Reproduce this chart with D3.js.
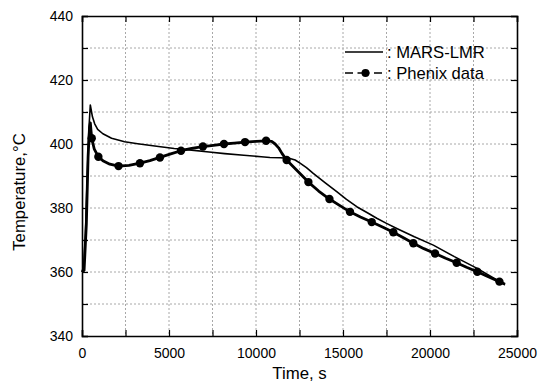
<!DOCTYPE html>
<html>
<head>
<meta charset="utf-8">
<script src="https://cdn.jsdelivr.net/npm/d3@7"></script>
<style>
  body { margin: 0; background: #fff; }
  text { font-family: "Liberation Sans", Arial, sans-serif; fill: #000; }
</style>
</head>
<body>
<div id="chart"></div>
<script>
// MARS-LMR calculation (time s, temperature °C)
const marsTime = [0, 100, 200, 300, 400, 477, 600, 730, 900, 1200, 1700, 2450, 3200, 4400, 5300, 6300, 7300, 8200, 9300, 10300, 10800, 11400, 11950, 12250, 12530, 12900, 13290, 14000, 14640, 15200, 15790, 16400, 16940, 17500, 18090, 19100, 20190, 21400, 22680, 23500, 24310];
const marsTemp = [360, 362, 372, 390, 405, 412.2, 408.5, 406.3, 404.6, 403.2, 401.8, 400.7, 400.1, 399.2, 398.6, 398.1, 397.5, 397, 396.5, 396, 395.8, 395.7, 395.5, 395, 394, 392.6, 390.8, 387.8, 385.1, 382.7, 380.4, 378.5, 376.8, 375.2, 373.6, 371, 368.4, 364.8, 361.2, 358.6, 356];

// Phenix plant data (line)
const phxTime = [0, 120, 250, 350, 430, 480, 520, 560, 700, 940, 1200, 1600, 2100, 2700, 3330, 3900, 4480, 5100, 5690, 6300, 6950, 7550, 8160, 8750, 9370, 10000, 10580, 10900, 11100, 11300, 11500, 11760, 12400, 13010, 13600, 14220, 14800, 15400, 16000, 16650, 17300, 17890, 18500, 19040, 19650, 20290, 20900, 21530, 22100, 22720, 23350, 23990, 24310];
const phxTemp = [360, 360.5, 375, 396, 405, 406.6, 404, 401.8, 398.5, 396, 394.8, 393.7, 393.1, 393.3, 394, 394.8, 395.8, 396.9, 397.9, 398.6, 399.2, 399.6, 400, 400.3, 400.6, 400.8, 401, 400.8, 400, 398.8, 397, 395, 391.5, 388.1, 385.3, 382.8, 380.8, 378.8, 377.2, 375.6, 374, 372.4, 370.6, 369, 367.3, 365.8, 364.3, 362.9, 361.5, 360.1, 358.5, 357, 356.2];
// Phenix marker positions
const markTime = [560, 940, 2100, 3330, 4480, 5690, 6950, 8160, 9370, 10580, 11760, 13010, 14220, 15400, 16650, 17890, 19040, 20290, 21530, 22720, 23990];

const xTicks = [0, 5000, 10000, 15000, 20000, 25000];
const yTicks = [340, 360, 380, 400, 420, 440];
const legendLabels = [": MARS-LMR", ": Phenix data"];

const W = 538, H = 383;
const mL = 82, mR = 517, mT = 16, mB = 336;

const svg = d3.select("#chart").append("svg")
    .attr("width", W).attr("height", H);

const x = d3.scaleLinear().domain([0, 25000]).range([mL, mR]);
const y = d3.scaleLinear().domain([340, 440]).range([mB, mT]);

// grid (every minor tick)
const gridX = d3.range(2500, 25000, 2500);
const gridY = d3.range(350, 440, 10);
svg.append("g").selectAll("line").data(gridX).join("line")
    .attr("x1", d => x(d)).attr("x2", d => x(d))
    .attr("y1", mT).attr("y2", mB)
    .attr("stroke", "#a8a8a8").attr("stroke-width", 1).attr("stroke-dasharray", "2,2");
svg.append("g").selectAll("line").data(gridY).join("line")
    .attr("y1", d => y(d)).attr("y2", d => y(d))
    .attr("x1", mL).attr("x2", mR)
    .attr("stroke", "#a8a8a8").attr("stroke-width", 1).attr("stroke-dasharray", "2,2");

// axes with inward ticks
const minorX = d3.range(0, 25001, 2500);
const minorY = d3.range(340, 441, 10);
function axisG(axis, tr) {
  const g = svg.append("g").attr("transform", tr).call(axis);
  g.select(".domain").attr("stroke-width", 1.6);
  g.selectAll(".tick line").attr("stroke-width", 1.2);
  return g;
}
const xb = axisG(d3.axisBottom(x).tickValues(minorX).tickSize(-6).tickPadding(12)
    .tickFormat(d => xTicks.includes(d) ? d : ""), `translate(0,${mB})`);
xb.selectAll("text").attr("font-size", 14).attr("font-family", "Liberation Sans, Arial, sans-serif");
axisG(d3.axisTop(x).tickValues(minorX).tickSize(-6).tickFormat(""), `translate(0,${mT})`);
const yl = axisG(d3.axisLeft(y).tickValues(minorY).tickSize(-6).tickPadding(9)
    .tickFormat(d => yTicks.includes(d) ? d : ""), `translate(${mL},0)`);
yl.selectAll("text").attr("font-size", 14).attr("font-family", "Liberation Sans, Arial, sans-serif");
axisG(d3.axisRight(y).tickValues(minorY).tickSize(-6).tickFormat(""), `translate(${mR},0)`);

// lines
const line = d3.line().x(d => x(d[0])).y(d => y(d[1]));
const marsData = d3.zip(marsTime, marsTemp);
const phxData = d3.zip(phxTime, phxTemp);

svg.append("path").datum(phxData).attr("d", line)
    .attr("fill", "none").attr("stroke", "#000").attr("stroke-width", 2.8)
    .attr("stroke-linejoin", "round");
svg.append("path").datum(marsData).attr("d", line)
    .attr("fill", "none").attr("stroke", "#000").attr("stroke-width", 1.6)
    .attr("stroke-linejoin", "round");

const phxInterp = t => {
  const i = d3.bisectLeft(phxTime, t);
  if (phxTime[i] === t) return phxTemp[i];
  const t0 = phxTime[i - 1], t1 = phxTime[i];
  return phxTemp[i - 1] + (phxTemp[i] - phxTemp[i - 1]) * (t - t0) / (t1 - t0);
};
svg.append("g").selectAll("circle").data(markTime).join("circle")
    .attr("cx", d => x(d)).attr("cy", d => y(phxInterp(d)))
    .attr("r", 4.2).attr("fill", "#000");

// legend
const lg = svg.append("g");
lg.append("line").attr("x1", 345).attr("x2", 383).attr("y1", 52).attr("y2", 52)
    .attr("stroke", "#000").attr("stroke-width", 1.6);
lg.append("line").attr("x1", 345).attr("x2", 383).attr("y1", 73).attr("y2", 73)
    .attr("stroke", "#000").attr("stroke-width", 1.6).attr("stroke-dasharray", "8,4.5,12,4.5,8");
lg.append("circle").attr("cx", 365.5).attr("cy", 73).attr("r", 4).attr("fill", "#000");
lg.selectAll("text").data(legendLabels).join("text")
    .attr("x", 387).attr("y", (d, i) => 57.5 + i * 21)
    .attr("font-size", 16.6).text(d => d);

// axis titles
svg.append("text").attr("x", (mL + mR) / 2).attr("y", 378.5)
    .attr("text-anchor", "middle").attr("font-size", 16.8).text("Time, s");
svg.append("text").attr("transform", "translate(25,192) rotate(-90)")
    .attr("text-anchor", "middle").attr("font-size", 16.8).text("Temperature,°C");
</script>
</body>
</html>
